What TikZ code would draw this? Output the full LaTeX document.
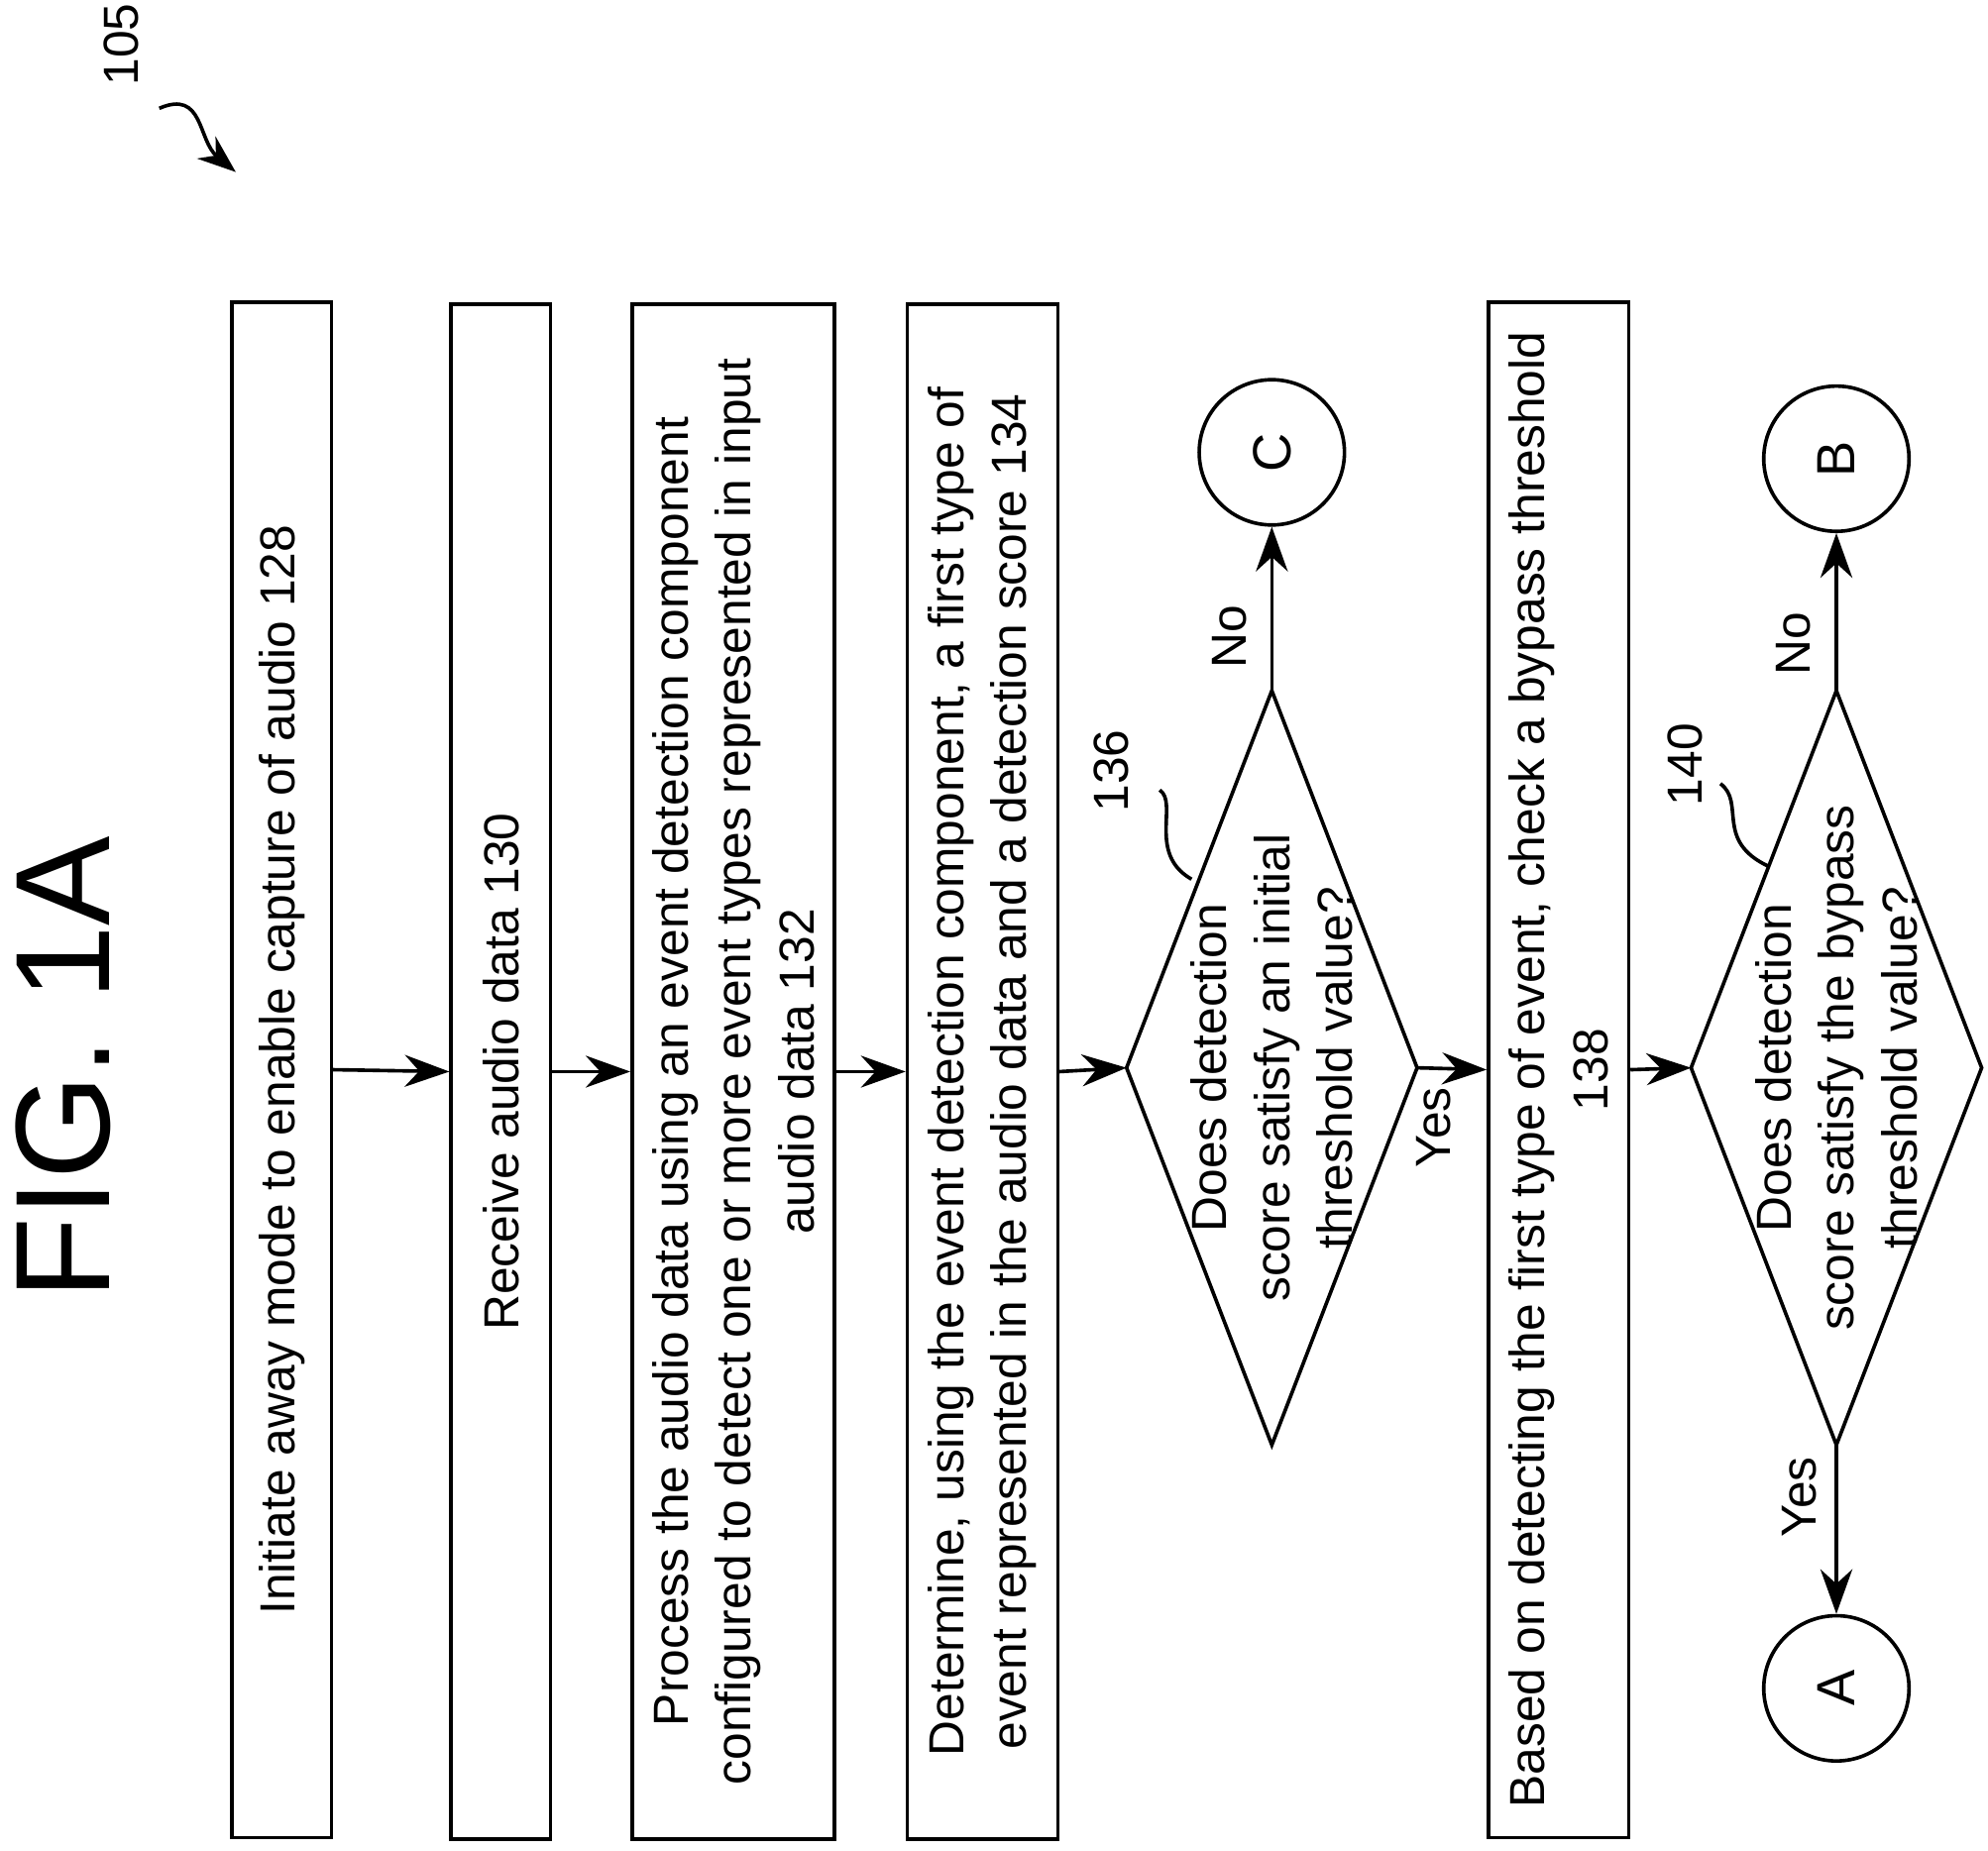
\documentclass[tikz,border=0pt]{standalone}
\usepackage{fontspec}
\setmainfont{Liberation Sans}
\usetikzlibrary{calc}
\usetikzlibrary{arrows.meta}
\begin{document}
\begin{tikzpicture}[
    box/.style={draw,thick,rotate=90,minimum width=12.05cm,align=center,
                font=\fontsize{11}{14}\selectfont},
    conn/.style={draw,circle,thick,minimum size=1.14cm,rotate=90,font=\fontsize{12}{14}\selectfont},
    arr/.style={thick,-{Stealth[length=3.5mm,width=2.5mm]}},
    lbl/.style={rotate=90,font=\fontsize{11}{14}\selectfont}
  ]
    \useasboundingbox (0,0) rectangle (15.6,-14.52);

    % Title and reference numeral
    \node[rotate=90,font=\fontsize{30}{34}\selectfont] (fig) at (0.5,-8.38) {FIG. 1A};
    \node[lbl] (n105) at (0.95,-0.35) {105};
    \coordinate (a105) at (1.85,-1.35);
    \draw[thick,-{Stealth[length=3mm]}] (1.25,-0.85) .. controls (1.6,-0.7) and (1.55,-1.1) .. (a105);

    % Boxes
    \node[box,minimum height=0.78cm] (b1) at (2.21,-8.395) {Initiate away mode to enable capture of audio 128};
    \node[box,minimum height=0.78cm] (b2) at (3.93,-8.41) {Receive audio data 130};
    \node[box,minimum height=1.59cm] (b3) at (5.755,-8.41) {Process the audio data using an event detection component\\ configured to detect one or more event types represented in input\\ audio data 132};
    \node[box,minimum height=1.18cm] (b4) at (7.71,-8.41) {Determine, using the event detection component, a first type of\\ event represented in the audio data and a detection score 134};
    \node[box,minimum height=1.10cm] (b5) at (12.23,-8.395) {Based on detecting the first type of event, check a bypass threshold\\ 138};

    % Diamonds
    \def\dw{1.14}  % half width
    \def\dh{2.96}  % half height
    \coordinate (D1) at (9.98,-8.38);
    \coordinate (D2) at (14.41,-8.38);
    \foreach \d in {D1,D2} {
      \coordinate (\d l) at ($(\d)+(-\dw,0)$);
      \coordinate (\d r) at ($(\d)+(\dw,0)$);
      \coordinate (\d t) at ($(\d)+(0,\dh)$);
      \coordinate (\d b) at ($(\d)+(0,-\dh)$);
      \draw[thick] (\d l) -- (\d t) -- (\d r) -- (\d b) -- cycle;
    }
    \node[lbl,align=center] (q1) at (D1) {Does detection\\ score satisfy an initial\\ threshold value?};
    \node[lbl,align=center] (q2) at (D2) {Does detection\\ score satisfy the bypass\\ threshold value?};

    % Connectors
    \node[conn] (C) at (9.98,-3.55) {C};
    \node[conn] (B) at (14.41,-3.6) {B};
    \node[conn] (A) at (14.41,-13.25) {A};

    \draw[arr] (b1.south) -- (b2.north);
    \draw[arr] (b2.south) -- (b3.north);
    \draw[arr] (b3.south) -- (b4.north);
    \draw[arr] (b4.south) -- (D1l);
    \draw[arr] (D1r) -- (b5.north);
    \draw[arr] (D1t) -- (C);
    \draw[arr] (b5.south) -- (D2l);
    \draw[arr] (D2t) -- (B);
    \draw[arr] (D2b) -- (A);
    \node[lbl] (y1) at (11.25,-8.85) {Yes};
    \node[lbl] (no1) at (9.65,-5.0) {No};
    \node[lbl] (no2) at (14.07,-5.05) {No};
    \node[lbl] (y2) at (14.12,-11.75) {Yes};

    % Step numerals
    \node[lbl] (n136) at (8.72,-6.05) {136};
    \draw[thick] (9.1,-6.2) .. controls (9.25,-6.3) and (9.0,-6.7) .. (9.35,-6.9);
    \node[lbl] (n140) at (13.22,-6.0) {140};
    \draw[thick] (13.5,-6.15) .. controls (13.7,-6.3) and (13.45,-6.6) .. (13.88,-6.8);
\end{tikzpicture}
\end{document}
